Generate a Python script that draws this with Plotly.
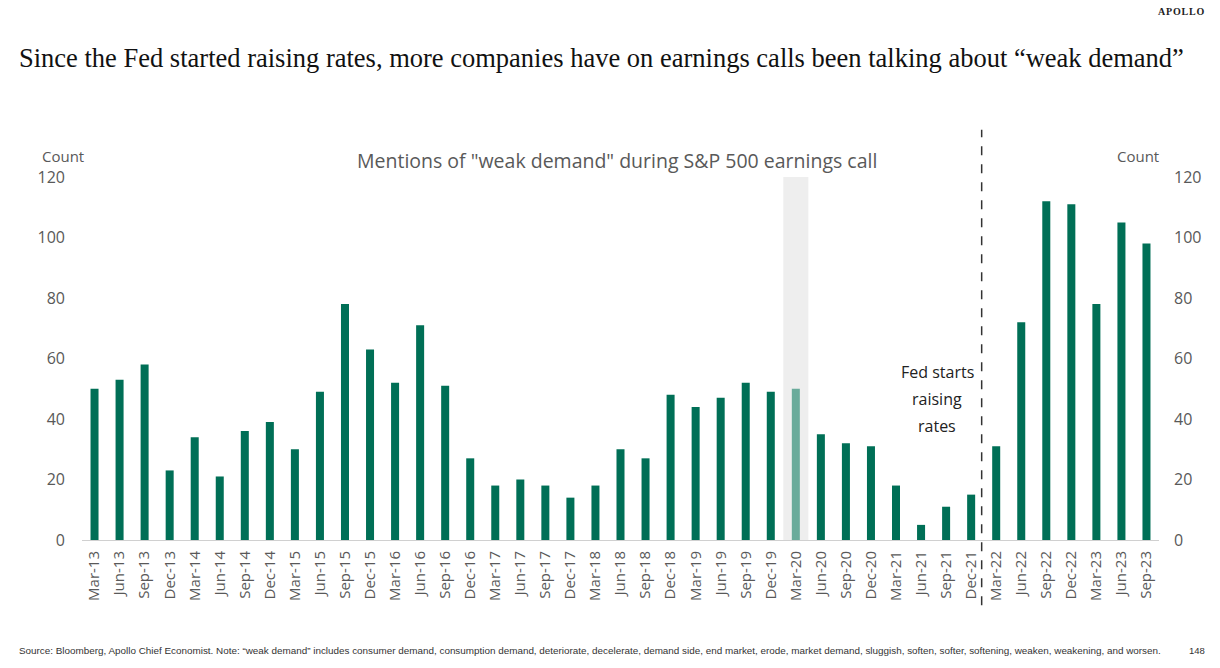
import plotly.graph_objects as go

quarters = [f"{m}-{y:02d}" for y in range(13, 24) for m in ["Mar", "Jun", "Sep", "Dec"]][:43]
counts = [50, 53, 58, 23, 34, 21, 36, 39, 30, 49, 78, 63, 52, 71, 51, 27,
          18, 20, 18, 14, 18, 30, 27, 48, 44, 47, 52, 49, 50, 35, 32, 31,
          18, 5, 11, 15, 31, 72, 112, 111, 78, 105, 98]
highlight = "Mar-20"
fed_after = "Dec-21"
y_ticks = [0, 20, 40, 60, 80, 100, 120]

GREEN = "#006F56"
LIGHT = "#6AAB9B"
TICK = "#595959"
FONT = "Open Sans"

colors = [LIGHT if q == highlight else GREEN for q in quarters]
hi = quarters.index(highlight)
fi = quarters.index(fed_after)

fig = go.Figure()
fig.add_trace(go.Bar(x=quarters, y=counts, marker=dict(color=colors, line=dict(width=0)),
                     showlegend=False, hoverinfo="x+y"))
fig.add_trace(go.Scatter(x=quarters, y=counts, yaxis="y2", mode="lines",
                         line=dict(width=0), opacity=0, showlegend=False, hoverinfo="skip"))

fig.add_shape(type="rect", xref="x", yref="y", x0=hi - 0.5, x1=hi + 0.5, y0=0, y1=120,
              fillcolor="#EEEEEE", line=dict(width=0), layer="below")
fig.add_shape(type="line", xref="x", yref="paper", x0=fi + 0.42, x1=fi + 0.42, y0=-0.18, y1=1.13,
              line=dict(color="#333333", width=1.5, dash="dash"))

fig.update_layout(
    width=1220, height=668,
    margin=dict(l=82, r=61, t=177, b=128),
    paper_bgcolor="white", plot_bgcolor="white",
    bargap=0.68,
    font=dict(family=FONT, color=TICK),
    xaxis=dict(type="category", tickangle=-90, tickfont=dict(size=15, color=TICK),
               showline=True, linecolor="#D0D0D0", linewidth=1, showgrid=False,
               ticks="", ticklabelstandoff=4),
    yaxis=dict(range=[0, 120], tickvals=y_ticks, showgrid=False, zeroline=False,
               tickfont=dict(size=16, color=TICK), ticklabelstandoff=16, showline=False),
    yaxis2=dict(range=[0, 120], tickvals=y_ticks, overlaying="y", side="right",
                showgrid=False, zeroline=False, tickfont=dict(size=16, color=TICK),
                ticklabelstandoff=14, showline=False),
)

HS = "\u200a"
ann = [
    dict(text="Since the Fed started raising rates, more companies have on earnings calls been talking about \u201cweak demand\u201d",
         x=17, y=58, font=dict(family="Liberation Serif", size=26.5, color="#111111"), xanchor="left"),
    dict(text=HS.join("APOLLO"), x=1207, y=12, font=dict(family="Liberation Serif", size=10, color="#222222", weight="bold"),
         xanchor="right"),
    dict(text="Mentions of \"weak demand\" during S&P 500 earnings call", x=617, y=160,
         font=dict(family=FONT, size=19.5, color="#595959"), xanchor="center"),
    dict(text="Count", x=40, y=156, font=dict(family=FONT, size=15, color=TICK), xanchor="left"),
    dict(text="Count", x=1161, y=156, font=dict(family=FONT, size=15, color=TICK), xanchor="right"),
    dict(text="Fed starts", x=937, y=372, font=dict(family=FONT, size=16, color="#222222"), xanchor="center"),
    dict(text="raising", x=937, y=399, font=dict(family=FONT, size=16, color="#222222"), xanchor="center"),
    dict(text="rates", x=937, y=426, font=dict(family=FONT, size=16, color="#222222"), xanchor="center"),
    dict(text="Source: Bloomberg, Apollo Chief Economist. Note: \u201cweak demand\u201d includes consumer demand, consumption demand, deteriorate, decelerate, demand side, end market, erode, market demand, sluggish, soften, softer, softening, weaken, weakening, and worsen.",
         x=17, y=650, font=dict(family="Liberation Sans", size=9.9, color="#333333"), xanchor="left"),
    dict(text="148", x=1207, y=650, font=dict(family="Liberation Sans", size=9.5, color="#333333"),
         xanchor="right"),
]
for a in ann:
    fig.add_annotation(xref="paper", yref="paper", showarrow=False, yanchor="middle",
                       x=(a["x"] - 82) / (1220 - 82 - 61),
                       y=(540 - a["y"]) / (540 - 177),
                       text=a["text"], font=a["font"], xanchor=a["xanchor"], align="center")

fig.write_html("out.html", config={"displayModeBar": False},
               post_script="document.body.style.margin='0';document.body.style.padding='0';")
